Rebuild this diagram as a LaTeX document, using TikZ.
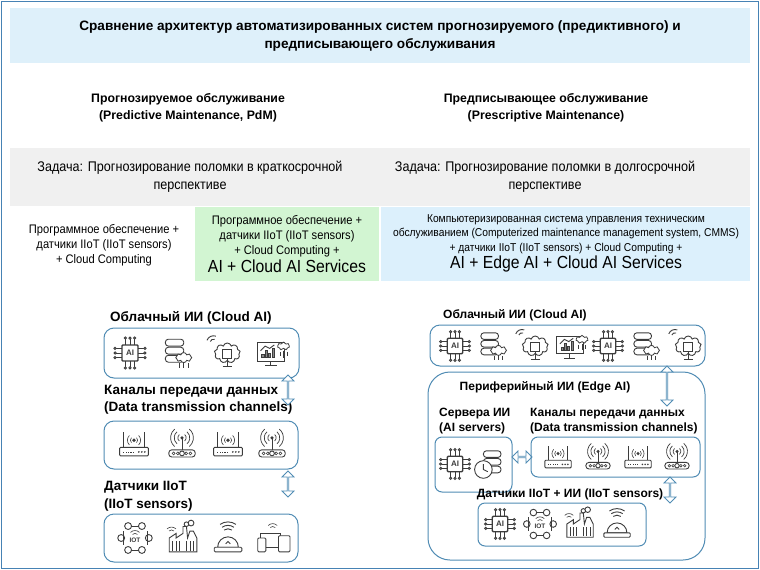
\documentclass[tikz,border=0pt]{standalone}
\usepackage{fontspec}
\setmainfont{Liberation Sans}
\newfontfamily\cond{Liberation Sans}[FakeStretch=0.9]
\usetikzlibrary{shapes.symbols,shapes.arrows,shapes.geometric}
\definecolor{bordb}{RGB}{70,130,180}
\definecolor{titleb}{RGB}{222,240,250}
\definecolor{grayb}{RGB}{240,240,240}
\definecolor{greenb}{RGB}{210,245,210}
\definecolor{blueb}{RGB}{220,240,252}
\definecolor{icon}{RGB}{60,60,60}
\definecolor{panel}{RGB}{80,140,180}
\tikzset{
  panelbox/.style={draw=panel,line width=1pt,rounded corners=10pt},
  lab/.style={font=\bfseries\fontsize{13.5}{17.5}\selectfont,align=left,inner sep=0pt},
  labr/.style={font=\bfseries\fontsize{12}{15.5}\selectfont,align=left,inner sep=0pt},
  dbl/.style={double arrow,draw=panel,fill=white,line width=0.8pt,minimum width=12pt,double arrow head extend=3pt,inner sep=0pt},
  ic/.style={draw=icon,line width=0.9pt},
  chip/.pic={\draw[ic,line width=1.3pt,rounded corners=1pt] (-7,-7) rectangle (7,7);
    \node[font=\bfseries\fontsize{8}{8}\selectfont,text=icon] at (0,0) {AI};
    \foreach \i in {-4,0,4}{\draw[ic] (-7,\i)--(-12,\i) (7,\i)--(12,\i) (\i,-7)--(\i,-12) (\i,7)--(\i,12);
      \draw[ic,fill=white] (-13,\i) circle (1pt) (13,\i) circle (1pt) (\i,-13) circle (1pt) (\i,13) circle (1pt);}},
  db/.pic={\foreach \k in {0,1,2}{\draw[ic,rounded corners=3pt,fill=white] (-11,-12+7*\k) rectangle (5,-6+7*\k);}
    \node[cloud,cloud puffs=8,draw=icon,fill=white,line width=0.8pt,minimum width=16pt,minimum height=10pt,inner sep=0pt] at (5,4) {};
    \draw[ic] (5,8)--(5,13) (1,9)--(1,13) (9,9)--(9,13);},
  clouddb/.pic={\foreach \k in {0,1,2}{\draw[ic,rounded corners=3pt,fill=white] (-6,-12+7*\k) rectangle (10,-6+7*\k);}
    \draw[ic,fill=white] (-6,5) circle (8pt); \draw[ic] (-6,5)--(-6,0) (-6,5)--(-2,7);},
  cloudchip/.pic={\node[cloud,cloud puffs=9,draw=icon,line width=0.9pt,minimum width=26pt,minimum height=20pt,inner sep=0pt] at (2,0) {};
    \draw[ic,fill=white] (-2,-3) rectangle (6,5); \draw[ic] (2,5)--(2,12) (-2,12)--(6,12);
    \foreach \r in {3,6}{\draw[ic] (-10,-9) ++(200:\r) arc[start angle=200,end angle=290,radius=\r];}},
  monitor/.pic={\draw[ic,fill=white] (-13,-9) rectangle (11,7); \draw[ic] (-1,7)--(-1,11) (-6,11)--(4,11);
    \foreach \x/\h in {-9/3,-6/6,-3/4,0/8}{\draw[ic,fill=icon!60] (\x,4) rectangle (\x+2,4-\h);}
    \draw[ic] (-10,-2)--(-6,-6)--(-2,-4)--(2,-7);
    \node[cloud,cloud puffs=7,draw=icon,fill=white,line width=0.8pt,minimum width=12pt,minimum height=8pt,inner sep=0pt] at (10,-6) {};
    \draw[ic] (10,-2)--(10,4) (7,-1)--(7,3) (13,-1)--(13,3);},
  router/.pic={\draw[ic,fill=white,rounded corners=1pt] (-12,2) rectangle (12,9);
    \draw[ic] (-9,2)--(-9,-11) (9,2)--(9,-11);
    \fill[icon] (0,-4) circle (1.5pt);
    \foreach \r in {3,5.5}{\draw[ic,line width=0.6pt] (0,-4) ++(135:\r) arc[start angle=135,end angle=225,radius=\r];
      \draw[ic,line width=0.6pt] (0,-4) ++(-45:\r) arc[start angle=-45,end angle=45,radius=\r];}
    \foreach \x in {-9,-7,...,-1}{\fill[icon] (\x,5.5) rectangle (\x+1,6.5);}
    \foreach \x in {4,6.5,9}{\fill[icon] (\x,5.8) circle (0.8pt);}},
  tower/.pic={\fill[icon] (0,-6) circle (1.5pt); \draw[ic] (0,-6)--(0,4);
    \foreach \r in {3.5,6.5,9.5}{\draw[ic,line width=0.7pt] (0,-6) ++(130:\r) arc[start angle=130,end angle=230,radius=\r];
      \draw[ic,line width=0.7pt] (0,-6) ++(-50:\r) arc[start angle=-50,end angle=50,radius=\r];}
    \draw[ic,fill=white,rounded corners=3pt] (-11,4) rectangle (11,10);
    \foreach \x in {-7,-3.5,3.5,7}{\draw[ic,line width=0.6pt] (\x,7) circle (1.2pt);}
    \draw[ic,fill=white] (0,7) circle (2pt);},
  iot/.pic={\foreach \a in {0,60,...,300}{\draw[ic] (\a:12) circle (3pt);}
    \draw[ic] (-3.5,-10.4)--(3.5,-10.4) (-3.5,10.4)--(3.5,10.4);
    \draw[ic] (-10.4,-6)--(-10.4,6) (10.4,-6)--(10.4,6);
    \node[font=\bfseries\fontsize{6.5}{6.5}\selectfont,text=icon] at (0,2) {IOT};
    \foreach \r in {3,5.5}{\draw[ic,line width=0.6pt] (0,-1) ++(225:\r) arc[start angle=225,end angle=315,radius=\r];}},
  factory/.pic={\draw[ic,fill=white] (-12,12)--(-12,0)--(-6,-4)--(-6,0)--(0,-4)--(0,-10)--(3,-10)--(4,0)--(6,-6)--(9,-6)--(12,0)--(12,12)--cycle;
    \foreach \x in {-9,-6,-3,3,6,9}{\draw[ic,line width=0.6pt] (\x,3)--(\x,11);}
    \draw[ic] (3,-12) circle (2pt) (7,-13) circle (2.5pt);
    \foreach \r in {3,5.5}{\draw[ic,line width=0.6pt] (-10,-4) ++(225:\r) arc[start angle=225,end angle=315,radius=\r];}},
  alarm/.pic={\draw[ic,fill=white] (-9,8) arc[start angle=180,end angle=360,radius=9] -- cycle;
    \draw[ic,fill=white,rounded corners=1pt] (-12,8) rectangle (12,12);
    \draw[ic] (-2,5)--(0,3)--(2,5);
    \foreach \r in {6,9,12}{\draw[ic] (0,-2) ++(235:\r) arc[start angle=235,end angle=305,radius=\r];}},
  devices/.pic={\draw[ic,fill=white] (-13,-4) rectangle (5,8); \draw[ic] (-15,8)--(7,8);
    \draw[ic,fill=white,rounded corners=1pt] (3,-2) rectangle (13,12);
    \draw[ic,fill=white,rounded corners=1pt] (-15,0) rectangle (-8,12);
    \foreach \r in {3,5.5}{\draw[ic,line width=0.6pt] (-2,-7) ++(225:\r) arc[start angle=225,end angle=315,radius=\r];}},
}
\begin{document}
\begin{tikzpicture}[x=1pt,y=-1pt]
\useasboundingbox (0,0) rectangle (760,570);
\fill[white] (0,0) rectangle (760,570);
\draw[bordb,line width=1.5pt] (1.5,1.5) rectangle (758.5,568.5);
\fill[titleb] (10,8) rectangle (750,63);
\node[font=\bfseries\fontsize{13.6}{18}\selectfont,align=center] (title) at (380,36) {Сравнение архитектур автоматизированных систем прогнозируемого (предиктивного) и\\предписывающего обслуживания};
\node[font=\bfseries\fontsize{12.3}{17}\selectfont,align=center] (hl) at (188,108) {Прогнозируемое обслуживание\\(Predictive Maintenance, PdM)};
\node[font=\bfseries\fontsize{12.3}{17}\selectfont,align=center] (hr) at (546,108) {Предписывающее обслуживание\\(Prescriptive Maintenance)};
\fill[grayb] (10,148) rectangle (750,206);
\node[font=\cond\fontsize{14}{18}\selectfont,align=center] (tl) at (190,177) {Задача: Прогнозирование поломки в краткосрочной\\перспективе};
\node[font=\cond\fontsize{14}{18}\selectfont,align=center] (tr) at (545,177) {Задача: Прогнозирование поломки в долгосрочной\\перспективе};
\fill[greenb] (195,207) rectangle (379,281);
\fill[blueb] (381,207) rectangle (750,281);
\node[font=\cond\fontsize{12.4}{15}\selectfont,align=center] (c1) at (104,245) {Программное обеспечение +\\датчики IIoT (IIoT sensors)\\+ Cloud Computing};
\node[font=\cond\fontsize{12.4}{15}\selectfont,align=center] (c2) at (287,244) {Программное обеспечение +\\датчики IIoT (IIoT sensors)\\+ Cloud Computing +\\[1pt]{\fontsize{17.5}{19}\selectfont AI + Cloud AI Services}};
\node[font=\cond\fontsize{11.4}{14.5}\selectfont,align=center] (c3) at (566,243) {Компьютеризированная система управления техническим\\обслуживанием (Computerized maintenance management system, CMMS)\\+ датчики IIoT (IIoT sensors) + Cloud Computing +\\[1pt]{\fontsize{17.5}{19}\selectfont AI + Edge AI + Cloud AI Services}};
\node[lab,anchor=west] (lc) at (110,318) {Облачный ИИ (Cloud AI)};
\draw[panelbox] (104,328) rectangle (299,378);
\pic[scale=1.15] at (130,353) {chip}; \pic[scale=1.15] at (178,353) {db}; \pic[scale=1.15] at (225,353) {cloudchip}; \pic[scale=1.15] at (272,353) {monitor};
\node[lab,anchor=west] (lch) at (104,400) {Каналы передачи данных\\(Data transmission channels)};
\draw[panelbox] (104,421) rectangle (298,469);
\pic[scale=1.2] at (134,445) {router}; \pic[scale=1.2] at (182,445) {tower}; \pic[scale=1.2] at (228,445) {router}; \pic[scale=1.2] at (272,445) {tower};
\node[dbl,rotate=90,minimum height=30pt] (a1) at (288,390) {};
\node[lab,anchor=west] (lse) at (104,496) {Датчики IIoT\\(IIoT sensors)};
\draw[panelbox] (104,514) rectangle (298,562);
\pic[scale=1.15] at (135,538) {iot}; \pic[scale=1.15] at (183,538) {factory}; \pic[scale=1.15] at (228,538) {alarm}; \pic[scale=1.15] at (275,538) {devices};
\node[dbl,rotate=90,minimum height=26pt] (a2) at (288,484) {};
\node[labr,anchor=west] (rc) at (443,315) {Облачный ИИ (Cloud AI)};
\draw[panelbox] (430,325) rectangle (705,366);
\pic[scale=1.1] at (455,346) {chip}; \pic[scale=1.1] at (493,346) {db}; \pic[scale=1.1] at (533,346) {cloudchip}; \pic[scale=1.1] at (571,346) {monitor};
\pic[scale=1.1] at (608,346) {chip}; \pic[scale=1.1] at (646,346) {db}; \pic[scale=1.1] at (686,346) {cloudchip};
\draw[panel,line width=1pt,rounded corners=22pt] (428,372) rectangle (705,560);
\node[labr] (edge) at (545,387) {Периферийный ИИ (Edge AI)};
\node[dbl,rotate=90,minimum height=40pt] (a3) at (667,386) {};
\node[labr,anchor=west] (srv) at (439,421) {Сервера ИИ\\(AI servers)};
\draw[panelbox,rounded corners=7pt] (435,437) rectangle (512,492);
\pic[scale=1.1] at (455,464) {chip}; \pic[scale=1.1] at (490,464) {clouddb};
\node[dbl,minimum height=20pt] (a4) at (522,457) {};
\node[labr,anchor=west] (rch) at (530,421) {Каналы передачи данных\\(Data transmission channels)};
\draw[panelbox,rounded corners=7pt] (531,437) rectangle (700,477);
\pic[scale=1.1] at (558,458) {router}; \pic[scale=1.1] at (598,458) {tower}; \pic[scale=1.1] at (638,458) {router}; \pic[scale=1.1] at (677,458) {tower};
\node[labr] (rse) at (570,494) {Датчики IIoT + ИИ (IIoT sensors)};
\node[dbl,rotate=90,minimum height=26pt] (a5) at (670,490) {};
\draw[panelbox,rounded corners=7pt] (478,503) rectangle (646,546);
\pic[scale=1.1] at (500,524) {chip}; \pic[scale=1.1] at (540,524) {iot}; \pic[scale=1.1] at (580,524) {factory}; \pic[scale=1.1] at (617,524) {alarm};
\end{tikzpicture}
\end{document}
